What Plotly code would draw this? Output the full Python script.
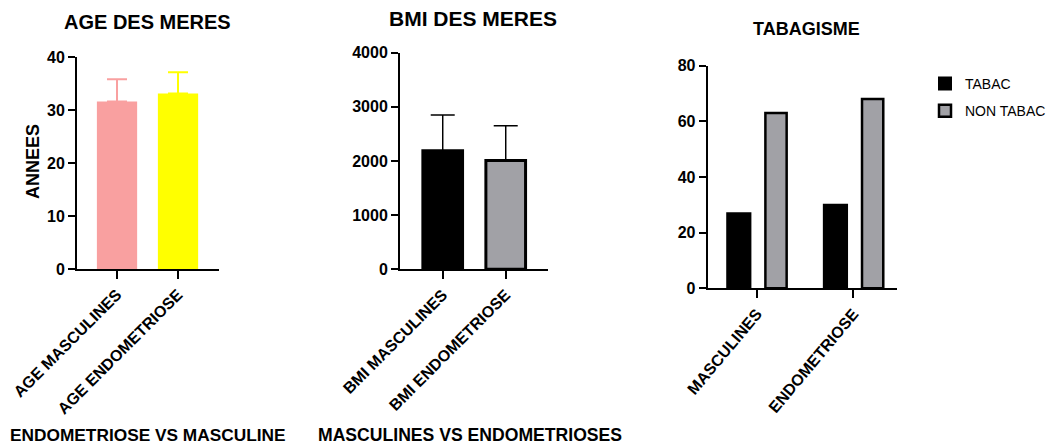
import plotly.graph_objects as go

# ---- data ----
age_cats = ["AGE MASCULINES", "AGE ENDOMETRIOSE"]
age_mean = [31.6, 33.1]
age_sd = [4.2, 4.0]
age_colors = ["#f9a0a0", "#ffff00"]
age_ticks = [0, 10, 20, 30, 40]

bmi_cats = ["BMI MASCULINES", "BMI ENDOMETRIOSE"]
bmi_mean = [2190, 2010]
bmi_sd = [660, 640]
bmi_colors = ["#000000", "#a1a1a6"]
bmi_ticks = [0, 1000, 2000, 3000, 4000]

tab_cats = ["MASCULINES", "ENDOMETRIOSE"]
tabac = [27, 30]
non_tabac = [63, 68]
tab_ticks = [0, 20, 40, 60, 80]

# page is rendered inside a body with an 8px margin
OFF = 8
W, H = 1055 - OFF, 445 - OFF
FONT = "Liberation Sans, Arial, sans-serif"

def bold(vals):
    return ["<b>%s</b>" % v for v in vals]

fig = go.Figure()

# Panel 1: AGE
for i in range(2):
    fig.add_trace(go.Bar(
        x=[age_cats[i]], y=[age_mean[i]], xaxis="x", yaxis="y",
        width=0.66, offset=-0.33,
        marker=dict(color=age_colors[i], line=dict(width=0)),
        error_y=dict(type="data", array=[age_sd[i]], arrayminus=[0], symmetric=False,
                     color=age_colors[i], thickness=2, width=10),
        showlegend=False,
    ))

# Panel 2: BMI
for i in range(2):
    fig.add_trace(go.Bar(
        x=[bmi_cats[i]], y=[bmi_mean[i]], xaxis="x2", yaxis="y2",
        width=0.63, offset=-0.315,
        marker=dict(color=bmi_colors[i], line=dict(color="#000000", width=3)),
        error_y=dict(type="data", array=[bmi_sd[i]], arrayminus=[0], symmetric=False,
                     color="#000000", thickness=1.5, width=12),
        showlegend=False,
    ))

# Panel 3: TABAGISME
fig.add_trace(go.Bar(
    x=tab_cats, y=tabac, xaxis="x3", yaxis="y3", name="TABAC",
    width=0.24, offset=-0.305, legendgroup="a",
    marker=dict(color="#000000", line=dict(color="#000000", width=2)),
))
fig.add_trace(go.Bar(
    x=tab_cats, y=non_tabac, xaxis="x3", yaxis="y3", name="NON TABAC",
    width=0.22, offset=0.09, legendgroup="b",
    marker=dict(color="#a1a1a6", line=dict(color="#000000", width=2.5)),
))

tickfont = dict(family=FONT, size=16, color="#000000")
common_x = dict(type="category", showline=True, linecolor="#000000", linewidth=2,
                ticks="outside", ticklen=8, tickwidth=2, tickcolor="#000000",
                showgrid=False, zeroline=False, tickangle=-45, tickfont=tickfont,
                automargin=False)
common_y = dict(showline=True, linecolor="#000000", linewidth=2,
                ticks="outside", ticklen=7, tickwidth=2, tickcolor="#000000",
                showgrid=False, zeroline=False, tickfont=tickfont, automargin=False)

def px_x(a, b):
    return [(a - OFF) / W, (b - OFF) / W]

def px_y(top, bottom):
    return [1 - (bottom - OFF) / H, 1 - (top - OFF) / H]

fig.update_layout(
    width=W, height=H,
    margin=dict(l=0, r=0, t=0, b=0),
    paper_bgcolor="#ffffff", plot_bgcolor="#ffffff",
    barmode="overlay",
    font=dict(family=FONT, color="#000000"),
    xaxis=dict(common_x, domain=px_x(77, 219), anchor="y",
               categoryorder="array", categoryarray=age_cats, range=[-0.656, 1.672],
               tickvals=age_cats, ticktext=bold(age_cats)),
    yaxis=dict(common_y, domain=px_y(57, 269), anchor="x", range=[0, 40],
               tickvals=age_ticks, ticktext=bold(age_ticks)),
    xaxis2=dict(common_x, domain=px_x(400, 548), anchor="y2",
                categoryorder="array", categoryarray=bmi_cats, range=[-0.678, 1.671],
                tickvals=bmi_cats, ticktext=bold(bmi_cats)),
    yaxis2=dict(common_y, domain=px_y(52.7, 269.3), anchor="x2", range=[0, 4000],
                tickvals=bmi_ticks, ticktext=bold(bmi_ticks)),
    xaxis3=dict(common_x, domain=px_x(707.7, 897), anchor="y3",
                categoryorder="array", categoryarray=tab_cats, range=[-0.507, 1.452],
                tickangle=-50, tickvals=tab_cats, ticktext=bold(tab_cats)),
    yaxis3=dict(common_y, domain=px_y(65.7, 288.3), anchor="x3", range=[0, 80],
                tickvals=tab_ticks, ticktext=bold(tab_ticks)),
    legend=dict(x=(925 - OFF) / W, y=1 - (68 - OFF) / H, xanchor="left", yanchor="top",
                font=dict(family=FONT, size=14, color="#000000"),
                traceorder="grouped", tracegroupgap=6, bgcolor="rgba(0,0,0,0)"),
    showlegend=True,
)

def ann(text, x, y, size, angle=0):
    fig.add_annotation(text=text, x=(x - OFF) / W, y=1 - (y - OFF) / H,
                       xref="paper", yref="paper",
                       xanchor="center", yanchor="middle", showarrow=False,
                       textangle=angle, font=dict(family=FONT, size=size, color="#000000"))

ann("<b>AGE DES MERES</b>", 147.5, 22, 20)
ann("<b>BMI DES MERES</b>", 473, 18, 21)
ann("<b>TABAGISME</b>", 806, 29, 18)
ann("<b>ANNEES</b>", 33, 162, 18, angle=-90)
ann("<b>ENDOMETRIOSE VS MASCULINE</b>", 147.5, 434.5, 17.3)
ann("<b>MASCULINES VS ENDOMETRIOSES</b>", 470, 434.5, 17.6)

fig.write_html("out.html")
